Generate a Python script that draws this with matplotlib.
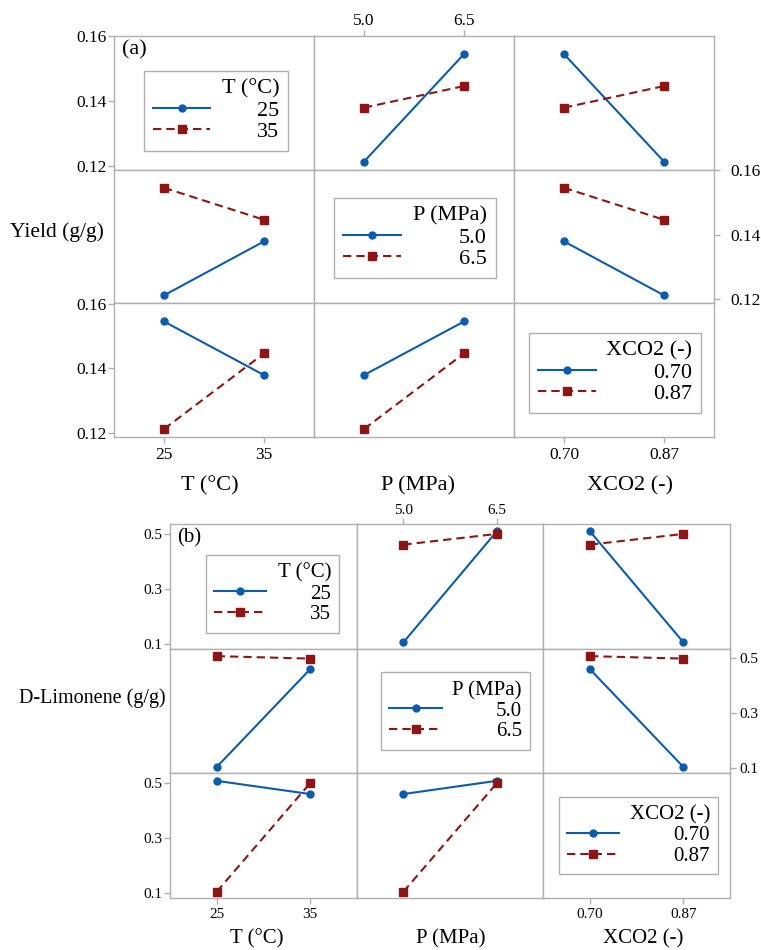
import numpy as np
import pandas as pd
import matplotlib.pyplot as plt
from matplotlib.lines import Line2D

plt.rcParams['font.family'] = ['Liberation Serif', 'DejaVu Serif']

## runs of the design (one response value per run)
T_runs = [25, 25, 35, 35]
P_runs = [5.0, 6.5, 5.0, 6.5]
X_runs = [0.87, 0.70, 0.70, 0.87]
yield_runs = [0.1212, 0.1545, 0.1379, 0.1446]
limonene_runs = [0.105, 0.508, 0.460, 0.499]

factors = ['T', 'P', 'X']
factor_names = ['T (°C)', 'P (MPa)', 'XCO2 (-)']
factor_levels = [[25, 35], [5.0, 6.5], [0.70, 0.87]]
level_labels = [['25', '35'], ['5.0', '6.5'], ['0.70', '0.87']]

yield_ticks = [0.12, 0.14, 0.16]
yield_ticklabels = ['0.12', '0.14', '0.16']
limonene_ticks = [0.1, 0.3, 0.5]
limonene_ticklabels = ['0.1', '0.3', '0.5']

df = pd.DataFrame({'T': T_runs, 'P': P_runs, 'X': X_runs,
                   'yield': yield_runs, 'limonene': limonene_runs})

BLUE = '#0b5cad'
RED = '#8e1515'
GRID = '#b0b0b0'
W, H = 761, 950

fig = plt.figure(figsize=(W/100, H/100), dpi=100)


def matrix(resp, x0, y0, cw, ch, ylim, yticks, yticklabels, fs, tfs, tag,
           ylabel, ylab_xy, xlab_x, xlab_y, leg_off, hlen, rpad):
    textpads = [2.1, 2.6, 2.6]
    for i in range(3):
        for j in range(3):
            ax = fig.add_axes([(x0 + j*cw)/W, 1 - (y0 + (i+1)*ch)/H, cw/W, ch/H])
            ax.set_xlim(-0.5, 1.5)
            ax.set_ylim(*ylim)
            ax.set_xticks([])
            ax.set_yticks([])
            for s in ax.spines.values():
                s.set_color(GRID)
                s.set_linewidth(1.0)
            ax.tick_params(direction='out', length=4, width=1, color=GRID,
                           labelsize=tfs, pad=2)
            if i == j:
                handles = [Line2D([], [], color=BLUE, ls='-', lw=1.5, marker='o', ms=5),
                           Line2D([], [], color=RED, ls='--', lw=1.5, dashes=(4, 2.4),
                                  marker='s', ms=6)]
                leg = ax.legend(handles, level_labels[i], title=factor_names[i],
                                loc='center', bbox_to_anchor=(0.5 + leg_off[i][0], 0.5 + leg_off[i][1]),
                                fontsize=fs, title_fontsize=fs, alignment='right',
                                fancybox=False, edgecolor=GRID, framealpha=1,
                                handlelength=hlen, handletextpad=textpads[i],
                                labelspacing=0.05, borderpad=0.4)
                leg.get_frame().set_linewidth(1.0)
            else:
                means = df.groupby([factors[i], factors[j]])[resp].mean()
                for k, lev in enumerate(factor_levels[i]):
                    y = [means[(lev, b)] for b in factor_levels[j]]
                    if k == 0:
                        ax.plot([0, 1], y, color=BLUE, lw=1.5, marker='o', ms=5)
                    else:
                        ax.plot([0, 1], y, color=RED, lw=1.5, ls='--', dashes=(4, 2.4),
                                marker='s', ms=6)
            ## axis ticks on the outer edges, alternating like an interaction matrix
            if j == 0 and i in (0, 2):
                ax.set_yticks(yticks, yticklabels)
                ax.tick_params(axis='y', pad=1.5)
            if j == 2 and i == 1:
                ax.yaxis.tick_right()
                ax.set_yticks(yticks, yticklabels)
                ax.tick_params(axis='y', pad=rpad)
            if i == 0 and j == 1:
                ax.xaxis.tick_top()
                ax.set_xticks([0, 1], level_labels[j])
                ax.tick_params(axis='x', pad=1)
            if i == 2 and j in (0, 2):
                ax.set_xticks([0, 1], level_labels[j])
                ax.tick_params(axis='x', pad=3)
            if i == 0 and j == 0:
                ax.text(0.04, 0.97, tag, transform=ax.transAxes, fontsize=fs,
                        ha='left', va='top')
    fig.text(ylab_xy[0]/W, 1 - ylab_xy[1]/H, ylabel, fontsize=fs - 0.5,
             ha='center', va='center')
    for j in range(3):
        fig.text(xlab_x[j]/W, 1 - xlab_y/H, factor_names[j], fontsize=fs,
                 ha='center', va='center')


matrix('yield', 114, 36, 200, 133.7, (0.1187, 0.1601), yield_ticks, yield_ticklabels,
       16, 12.5, '(a)', 'Yield (g/g)', (57, 232), (210, 418, 630), 486,
       [(0.01, -0.06), (0.005, -0.01), (0.005, -0.02)], 2.6, 8)
matrix('limonene', 170, 524, 186.7, 124.7, (0.082, 0.535), limonene_ticks, limonene_ticklabels,
       15, 11, '(b)', 'D-Limonene (g/g)', (92, 698), (257, 451, 643), 939,
       [(0.05, -0.06), (0.03, 0.0), (0.01, 0.0)], 2.5, 3)

fig.savefig('out.png', dpi=100)
